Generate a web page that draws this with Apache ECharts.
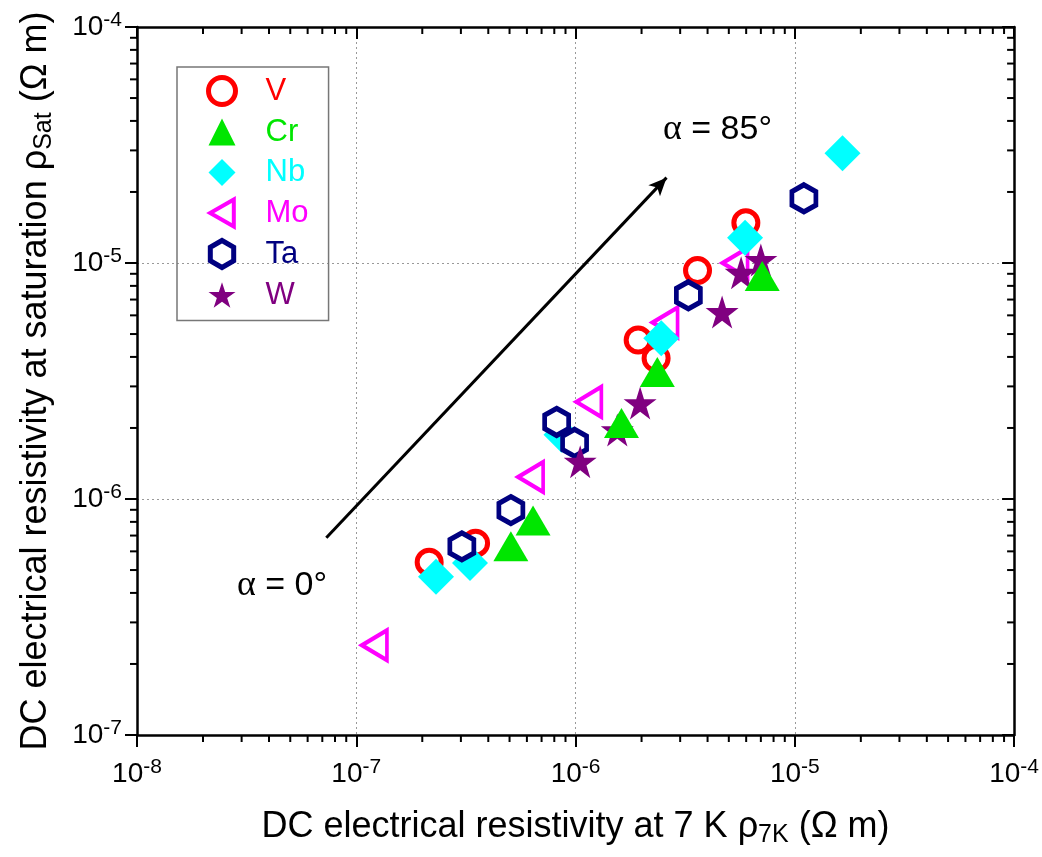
<!DOCTYPE html>
<html>
<head>
<meta charset="utf-8">
<script src="https://cdn.jsdelivr.net/npm/echarts@6/dist/echarts.min.js"></script>
<style>
  html, body { margin: 0; padding: 0; background: #fff; }
  #chart { width: 1042px; height: 857px; }
</style>
</head>
<body>
<div id="chart"></div>
<script>
// values (Ω m)
const vX = [2.15e-7, 3.5e-7, 1.93e-6, 2.33e-6, 3.6e-6, 5.98e-6];
const vY = [5.4e-7, 6.5e-7, 4.72e-6, 3.95e-6, 9.3e-6, 1.48e-5];
const crX = [5.07e-7, 6.4e-7, 1.62e-6, 2.36e-6, 7.1e-6];
const crY = [6.3e-7, 8.1e-7, 2.1e-6, 3.45e-6, 8.8e-6];
const nbX = [2.31e-7, 3.3e-7, 8.63e-7, 2.46e-6, 5.93e-6, 1.65e-5];
const nbY = [4.68e-7, 5.36e-7, 1.87e-6, 4.8e-6, 1.28e-5, 2.92e-5];
const moX = [1.21e-7, 6.24e-7, 1.15e-6, 2.56e-6, 5.34e-6];
const moY = [2.4e-7, 1.24e-6, 2.58e-6, 5.6e-6, 1.0e-5];
const taX = [3.03e-7, 5.07e-7, 8.2e-7, 9.9e-7, 3.27e-6, 1.1e-5];
const taY = [6.3e-7, 8.97e-7, 2.12e-6, 1.73e-6, 7.3e-6, 1.88e-5];
const wX = [1.05e-6, 1.55e-6, 1.97e-6, 4.66e-6, 5.69e-6, 7.0e-6];
const wY = [1.44e-6, 1.96e-6, 2.55e-6, 6.2e-6, 9.1e-6, 1.03e-5];

const arrowX = [7.3e-8, 2.6e-6];
const arrowY = [6.85e-7, 2.3e-5];

const xDecades = [-8, -7, -6, -5];
const yDecades = [-7, -6, -5];
const minorMult = [2, 3, 4, 5, 6, 7, 8, 9];

const hexPath = 'path://M0,-1L0.866,-0.5L0.866,0.5L0,1L-0.866,0.5L-0.866,-0.5Z';
const starPath = 'path://M0,-1L0.2245,-0.309L0.951,-0.309L0.363,0.118L0.588,0.809L0,0.382L-0.588,0.809L-0.363,0.118L-0.951,-0.309L-0.2245,-0.309Z';
const leftTriPath = 'path://M-1,0L0.75,-1L0.75,1Z';

const zip = (xs, ys) => xs.map((x, i) => [x, ys[i]]);
const xMinor = [];
xDecades.forEach((e) => minorMult.forEach((m) => xMinor.push([m * Math.pow(10, e), 1e-7])));
const yMinor = [];
yDecades.forEach((e) => minorMult.forEach((m) => yMinor.push([1e-8, m * Math.pow(10, e)])));

const font = 'Arial, "Liberation Sans", sans-serif';
const supLabel = (v) => '10{s|' + Math.round(Math.log10(v)) + '}';

const chart = echarts.init(document.getElementById('chart'));

const hollow = (color, bw) => ({ color: '#fff', borderColor: color, borderWidth: bw, opacity: 1 });
const solid = (color) => ({ color: color, borderWidth: 0, opacity: 1 });
const legendText = (color) => ({ color: color, fontSize: 31, fontFamily: font, padding: [0, 0, 0, 25] });

const nameStyle = {
  fontSize: 36, fontFamily: font, color: '#000',
  rich: { g: { fontSize: 36, fontFamily: font }, sub: { fontSize: 25, fontFamily: font, padding: [16, 0, 0, 0] } }
};
const tickLabel = (margin) => ({
  margin: margin, color: '#000', fontSize: 28, fontFamily: font, formatter: supLabel,
  rich: { s: { fontSize: 21, fontFamily: font, padding: [0, 0, 14, 0] } }
});

chart.setOption({
  animation: false,
  grid: { left: 137, right: 27, top: 27, bottom: 122 },
  xAxis: [{
    type: 'log', min: 1e-8, max: 1e-4,
    name: 'DC electrical resistivity at 7 K {g|ρ}{sub|7K} (Ω m)',
    nameLocation: 'middle', nameGap: 72,
    nameTextStyle: nameStyle,
    axisLine: { lineStyle: { color: '#000', width: 2.5 } },
    axisTick: { length: 12, lineStyle: { color: '#000', width: 2 } },
    axisLabel: tickLabel(22),
    splitLine: { show: true, lineStyle: { color: '#999', width: 1, type: [2, 3] } }
  }, {
    type: 'log', min: 1e-8, max: 1e-4, position: 'top',
    axisLine: { lineStyle: { color: '#000', width: 2.5 } },
    axisTick: { inside: true, length: 12, lineStyle: { color: '#000', width: 2 } },
    axisLabel: { show: false },
    splitLine: { show: false }
  }],
  yAxis: [{
    type: 'log', min: 1e-7, max: 1e-4,
    name: 'DC electrical resistivity at saturation {g|ρ}{sub|Sat} (Ω m)',
    nameLocation: 'middle', nameGap: 80,
    nameTextStyle: nameStyle,
    axisLine: { lineStyle: { color: '#000', width: 2.5 } },
    axisTick: { length: 12, lineStyle: { color: '#000', width: 2 } },
    axisLabel: tickLabel(15),
    splitLine: { show: true, lineStyle: { color: '#999', width: 1, type: [2, 3] } }
  }, {
    type: 'log', min: 1e-7, max: 1e-4, position: 'right',
    axisLine: { lineStyle: { color: '#000', width: 2.5 } },
    axisTick: { inside: true, length: 12, lineStyle: { color: '#000', width: 2 } },
    axisLabel: { show: false },
    splitLine: { show: false }
  }],
  legend: {
    orient: 'vertical', left: 177, top: 67,
    padding: [8, 20, 10, 29],
    itemWidth: 27, itemHeight: 27, itemGap: 9.5,
    borderColor: '#777', borderWidth: 1.5,
    textStyle: legendText('#000'),
    data: [
      { name: 'V', textStyle: legendText('#ff0000'), itemStyle: hollow('#ff0000', 5) },
      { name: 'Cr', textStyle: legendText('#00e600'), itemStyle: solid('#00e600') },
      { name: 'Nb', textStyle: legendText('#00ffff'), itemStyle: solid('#00ffff') },
      { name: 'Mo', textStyle: legendText('#ff00ff'), itemStyle: hollow('#ff00ff', 4) },
      { name: 'Ta', textStyle: legendText('#000080'), itemStyle: hollow('#000080', 5) },
      { name: 'W', textStyle: legendText('#800080'), itemStyle: solid('#800080') }
    ]
  },
  graphic: [
    { type: 'text', left: 663, top: 112, style: { text: '{a|α} = 85°', fontSize: 34, fontFamily: font, fill: '#000',
      rich: { a: { fontSize: 36, fontFamily: '"Liberation Serif", serif' } } } },
    { type: 'text', left: 237, top: 568, style: { text: '{a|α} = 0°', fontSize: 34, fontFamily: font, fill: '#000',
      rich: { a: { fontSize: 36, fontFamily: '"Liberation Serif", serif' } } } }
  ],
  series: [
    { name: 'V', type: 'scatter', symbol: 'circle', symbolSize: 24, itemStyle: hollow('#ff0000', 5), data: zip(vX, vY) },
    { name: 'Mo', type: 'scatter', symbol: leftTriPath, symbolSize: [25, 30], itemStyle: hollow('#ff00ff', 4), data: zip(moX, moY) },
    { name: 'Nb', type: 'scatter', symbol: 'diamond', symbolSize: 36, itemStyle: solid('#00ffff'), data: zip(nbX, nbY) },
    { name: 'Ta', type: 'scatter', symbol: hexPath, symbolSize: [24, 27], itemStyle: hollow('#000080', 5), data: zip(taX, taY) },
    { name: 'W', type: 'scatter', symbol: starPath, symbolSize: 33, itemStyle: solid('#800080'), data: zip(wX, wY) },
    { name: 'Cr', type: 'scatter', symbol: 'triangle', symbolSize: [35, 30], itemStyle: solid('#00e600'), data: zip(crX, crY) },
    {
      name: 'arrow', type: 'scatter', data: [],
      markLine: {
        silent: true, symbol: ['none', 'arrow'], symbolSize: [12, 18],
        label: { show: false },
        lineStyle: { color: '#000', width: 3, type: 'solid' },
        data: [[{ coord: [arrowX[0], arrowY[0]] }, { coord: [arrowX[1], arrowY[1]] }]]
      }
    },
    {
      name: 'xMinor', type: 'custom', silent: true, data: xMinor,
      renderItem: (params, api) => {
        const b = api.coord([api.value(0), 1e-7]);
        const t = api.coord([api.value(0), 1e-4]);
        const st = { stroke: '#000', lineWidth: 2 };
        return { type: 'group', children: [
          { type: 'line', shape: { x1: b[0], y1: b[1], x2: b[0], y2: b[1] + 7 }, style: st },
          { type: 'line', shape: { x1: t[0], y1: t[1], x2: t[0], y2: t[1] + 7 }, style: st }
        ] };
      }
    },
    {
      name: 'yMinor', type: 'custom', silent: true, data: yMinor,
      renderItem: (params, api) => {
        const l = api.coord([1e-8, api.value(1)]);
        const r = api.coord([1e-4, api.value(1)]);
        const st = { stroke: '#000', lineWidth: 2 };
        return { type: 'group', children: [
          { type: 'line', shape: { x1: l[0], y1: l[1], x2: l[0] - 7, y2: l[1] }, style: st },
          { type: 'line', shape: { x1: r[0], y1: r[1], x2: r[0] - 7, y2: r[1] }, style: st }
        ] };
      }
    }
  ]
});
</script>
</body>
</html>
